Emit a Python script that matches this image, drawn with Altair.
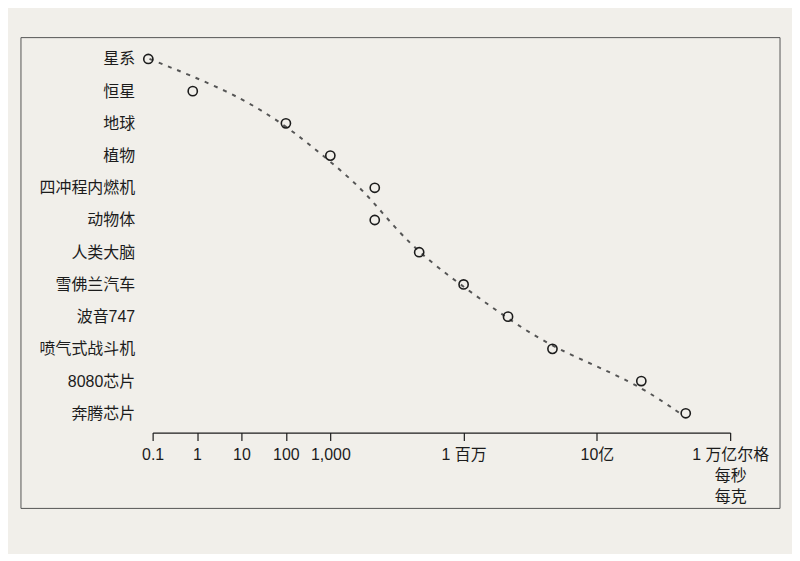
import json
import math
import altair as alt
import pandas as pd

# ---- data ----
categories = ["星系", "恒星", "地球", "植物", "四冲程内燃机", "动物体", "人类大脑",
              "雪佛兰汽车", "波音747", "喷气式战斗机", "8080芯片", "奔腾芯片"]
point_values = [0.08, 0.8, 100, 1000, 1e4, 1e4, 1e5, 1e6, 1e7, 1e8, 1e10, 1e11]
curve_values = [0.085, 5.5, 87, 690, 5000, 20000, 95000, 8.3e5, 8.5e6, 1.1e8, 6.5e9, 7.4e10]

tick_values = [0.1, 1, 10, 100, 1000, 1e6, 1e9, 1e12]
tick_labels = ["0.1", "1", "10", "100", "1,000", "1 百万", "10亿", ["1 万亿尔格", "每秒", "每克"]]

pts = pd.DataFrame({"name": categories, "value": point_values, "idx": list(range(len(categories)))})
crv = pd.DataFrame({"name": categories, "curve": curve_values, "idx": list(range(len(categories)))})

# label expression built from the tick lists
expr = "''"
for v, lab in reversed(list(zip(tick_values, tick_labels))):
    expr = f"(abs(log(datum.value)/LN10 - ({math.log10(v)})) < 0.01 ? {json.dumps(lab, ensure_ascii=False)} : {expr})"

W, H = 579, 394
FONT = "Liberation Sans, Noto Sans CJK SC, sans-serif"
INK = "#1c1c1c"
PAPER = "#f1efea"

xscale = alt.Scale(type="log", domain=[0.1, 1e12], nice=False)
yscale = alt.Scale(type="point", domain=categories, padding=0.6)

xaxis = alt.Axis(title=None, values=tick_values, labelExpr=expr, grid=False,
                 tickSize=8, tickColor=INK, domainColor=INK, domainWidth=1.2, tickWidth=1.2,
                 labelFontSize=16, labelColor=INK, labelPadding=6, labelFlush=False,
                 labelOverlap=False, labelLineHeight=21, labelFont=FONT)
yaxis = alt.Axis(title=None, domain=False, ticks=False, grid=False, labelPadding=18,
                 labelFontSize=16, labelColor=INK, labelFont=FONT)

frame = alt.Chart(pd.DataFrame({"a": [0]})).mark_rect(
    fill="transparent", stroke="#555555", strokeWidth=1
).encode(x=alt.value(-132), x2=alt.value(W + 50), y=alt.value(-2), y2=alt.value(470))

line = alt.Chart(crv).mark_line(
    interpolate="basis", strokeDash=[4, 6], color="#555555", strokeWidth=2
).encode(
    x=alt.X("curve:Q", scale=xscale, axis=xaxis),
    y=alt.Y("name:N", scale=yscale, axis=yaxis, sort=None),
    order=alt.Order("idx:Q"),
)

points = alt.Chart(pts).mark_point(
    shape="circle", filled=False, size=85, strokeWidth=1.6, color=INK, opacity=1
).encode(
    x=alt.X("value:Q", scale=xscale, axis=xaxis),
    y=alt.Y("name:N", scale=yscale, axis=yaxis, sort=None),
)

chart = alt.layer(frame, line, points).properties(
    width=W, height=H,
    padding={"left": 12, "top": 28, "right": 11, "bottom": 44},
    background=PAPER,
).configure(font=FONT).configure_view(stroke=None, strokeWidth=0).configure_axis(grid=False)

chart.save("out.html", embed_options={"renderer": "svg", "actions": False})
